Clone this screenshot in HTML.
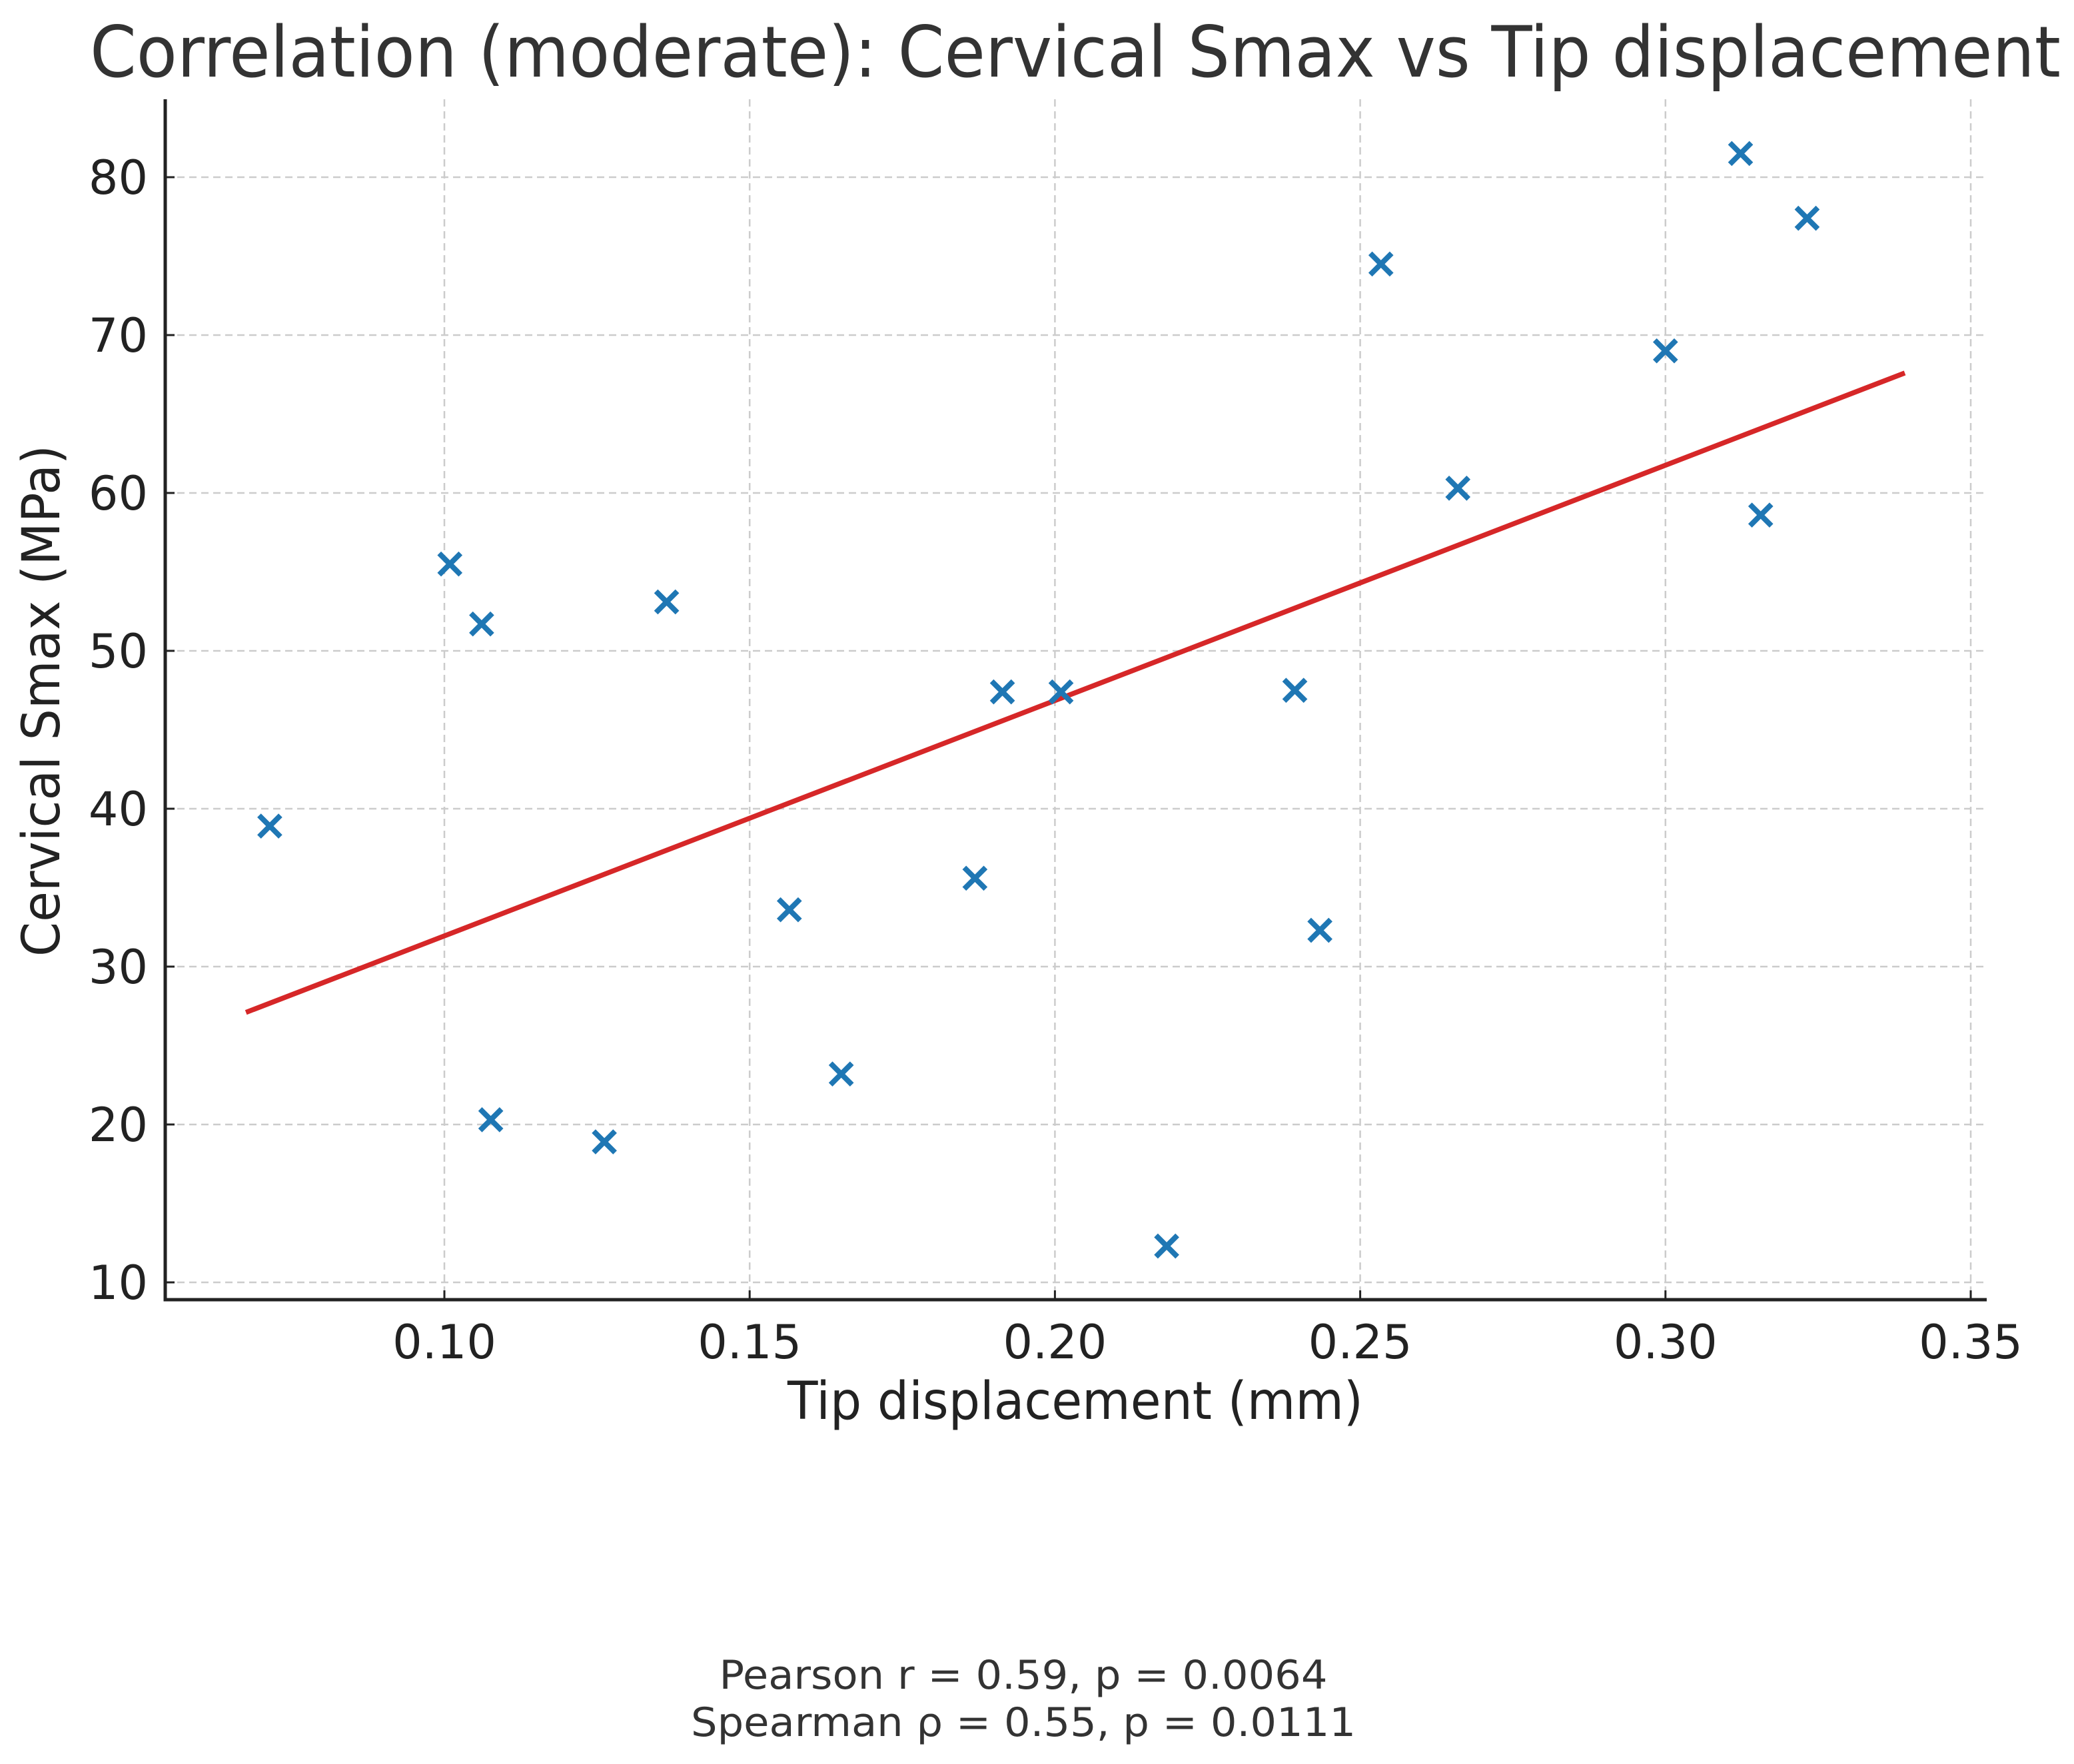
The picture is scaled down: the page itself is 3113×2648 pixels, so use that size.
<!DOCTYPE html>
<html><head><meta charset="utf-8"><style>
html,body{margin:0;padding:0;background:#fff;}
svg{display:block;font-family:"DejaVu Sans","Liberation Sans",sans-serif;}
</style></head><body>
<svg id="chart" width="3113" height="2648" viewBox="0 0 3113 2648" xmlns="http://www.w3.org/2000/svg">
<rect width="3113" height="2648" fill="#fff"/>
<text x="135" y="115" font-size="106" fill="#333" textLength="2958" lengthAdjust="spacingAndGlyphs">Correlation (moderate): Cervical Smax vs Tip displacement</text>
<g id="grid"></g>
<g id="fit"></g>
<g id="points"></g>
<g id="axes"></g>
<text x="1614" y="2130" font-size="78" fill="#222" text-anchor="middle" textLength="864" lengthAdjust="spacingAndGlyphs">Tip displacement (mm)</text>
<text x="0" y="0" font-size="78" fill="#222" text-anchor="middle" textLength="768" lengthAdjust="spacingAndGlyphs" transform="translate(89,1052) rotate(-90)">Cervical Smax (MPa)</text>
<text x="1536" y="2535" font-size="60" fill="#333" text-anchor="middle" textLength="913" lengthAdjust="spacingAndGlyphs">Pearson r = 0.59, p = 0.0064</text>
<text x="1536" y="2606" font-size="60" fill="#333" text-anchor="middle" textLength="998" lengthAdjust="spacingAndGlyphs">Spearman ρ = 0.55, p = 0.0111</text>
</svg>
<script>
const xValues = [0.0714,0.1009,0.1061,0.1076,0.1262,0.1364,0.1565,0.1650,0.1869,0.1914,0.2010,0.2183,0.2393,0.2434,0.2534,0.2660,0.3000,0.3123,0.3156,0.3232];
const yValues = [38.9,55.5,51.7,20.3,18.9,53.1,33.6,23.2,35.6,47.4,47.4,12.3,47.5,32.3,74.5,60.3,69.0,81.5,58.6,77.4];
const fitX = [0.0675,0.3392];
const fitY = [27.1,67.6];
const xTicks = [0.10,0.15,0.20,0.25,0.30,0.35];
const xTickLabels = ["0.10","0.15","0.20","0.25","0.30","0.35"];
const yTicks = [10,20,30,40,50,60,70,80];
const yTickLabels = ["10","20","30","40","50","60","70","80"];

const NS="http://www.w3.org/2000/svg";
const L=248,R=2982,T=149,B=1951;
function sx(v){return 667+(v-0.10)/0.05*458.2;}
function sy(v){return 1925-(v-10)/10*237;}
function mk(tag,attrs,parent){const e=document.createElementNS(NS,tag);for(const k in attrs)e.setAttribute(k,attrs[k]);parent.appendChild(e);return e;}
const grid=document.getElementById('grid'),axes=document.getElementById('axes'),pts=document.getElementById('points'),fit=document.getElementById('fit');
xTicks.forEach((t,i)=>{
  const x=sx(t);
  const g=mk('line',{x1:x,x2:x,y1:T,y2:B,stroke:'#cccccc','stroke-width':2.5,'stroke-dasharray':'11,7'},grid);
  
  
  const tk=mk('line',{x1:x,x2:x,y1:B,y2:B-14,stroke:'#222','stroke-width':3},axes);
  
  
  const lb=mk('text',{x:x,y:2039,'font-size':70,fill:'#222','text-anchor':'middle'},axes);
  lb.textContent=xTickLabels[i];
  
  
});
yTicks.forEach((t,i)=>{
  const y=sy(t);
  const g=mk('line',{x1:L,x2:R,y1:y,y2:y,stroke:'#cccccc','stroke-width':2.5,'stroke-dasharray':'11,7'},grid);
  
  
  const tk=mk('line',{x1:L,x2:L+14,y1:y,y2:y,stroke:'#222','stroke-width':3},axes);
  
  
  const lb=mk('text',{x:222,y:y+25,'font-size':70,fill:'#222','text-anchor':'end'},axes);
  lb.textContent=yTickLabels[i];
  
  
});
const sl=mk('line',{x1:L,x2:L,y1:T,y2:B+2.5,stroke:'#222','stroke-width':5},axes);


const sb=mk('line',{x1:L-2.5,x2:R,y1:B,y2:B,stroke:'#222','stroke-width':5},axes);


const fl=mk('line',{x1:sx(fitX[0]),y1:sy(fitY[0]),x2:sx(fitX[1]),y2:sy(fitY[1]),stroke:'#d62728','stroke-width':7.5},fit);


xValues.forEach((v,i)=>{
  const cx=sx(v),cy=sy(yValues[i]),h=16;
  const p=mk('path',{d:`M${cx-h},${cy-h}L${cx+h},${cy+h}M${cx-h},${cy+h}L${cx+h},${cy-h}`,stroke:'#1f77b4','stroke-width':8,fill:'none'},pts);
  
  
});
</script>
</body></html>
